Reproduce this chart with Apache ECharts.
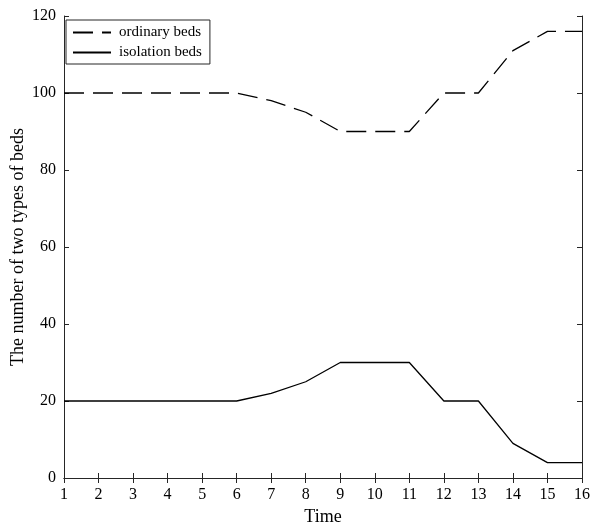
<!DOCTYPE html>
<html>
<head>
<meta charset="utf-8">
<script src="https://cdn.jsdelivr.net/npm/echarts@6/dist/echarts.min.js"></script>
<style>
  html, body { margin: 0; padding: 0; background: #fff; }
  #main { width: 591px; height: 524px; }
</style>
</head>
<body>
<div id="main"></div>
<script>
const times = [1, 2, 3, 4, 5, 6, 7, 8, 9, 10, 11, 12, 13, 14, 15, 16];
const ordinaryBeds = [100, 100, 100, 100, 100, 100, 98, 95, 90, 90, 90, 100, 100, 111, 116, 116];
const isolationBeds = [20, 20, 20, 20, 20, 20, 22, 25, 30, 30, 30, 20, 20, 9, 4, 4];

const dom = document.getElementById('main');
const myChart = echarts.init(dom);

const font = 'Liberation Serif';
const axisColor = '#262626';

function pairs(values) {
  return times.map((t, i) => [t, values[i]]);
}

// top and right edges of the box, ticks only
const boxAxis = {
  axisLine: { show: true, lineStyle: { color: axisColor, width: 1 } },
  axisTick: { show: true, inside: true, length: 5, lineStyle: { color: axisColor } },
  axisLabel: { show: false },
  splitLine: { show: false },
};

myChart.setOption({
  animation: false,
  textStyle: { fontFamily: font },
  grid: { left: 64, right: 9, top: 16, bottom: 46, outerBoundsMode: 'none', containLabel: false },
  legend: {
    orient: 'vertical',
    left: 66,
    top: 20,
    padding: [5, 8, 4, 6],
    itemGap: 5,
    itemWidth: 38,
    itemHeight: 14,
    borderColor: axisColor,
    borderWidth: 1,
    borderRadius: 0,
    backgroundColor: '#fff',
    itemStyle: { color: 'rgba(0,0,0,0)', borderWidth: 0 },
    textStyle: { fontFamily: font, fontSize: 15, color: '#000', padding: [0, 0, 0, 3] },
    data: ['ordinary beds', 'isolation beds'],
  },
  xAxis: [
    {
      type: 'value',
      min: 1,
      max: 16,
      interval: 1,
      name: 'Time',
      nameLocation: 'middle',
      nameGap: 30,
      nameTextStyle: { fontFamily: font, fontSize: 18, color: '#000' },
      axisLine: { show: true, lineStyle: { color: axisColor, width: 1 } },
      axisTick: { show: true, inside: true, length: 5, lineStyle: { color: axisColor } },
      axisLabel: { fontFamily: font, fontSize: 16, color: '#000', margin: 9 },
      splitLine: { show: false },
    },
    Object.assign({}, boxAxis, { type: 'value', position: 'top', min: 1, max: 16, interval: 1 }),
  ],
  yAxis: [
    {
      type: 'value',
      min: 0,
      max: 120,
      interval: 20,
      name: 'The number of two types of beds',
      nameLocation: 'middle',
      nameGap: 37,
      nameMoveOverlap: false,
      nameTextStyle: { fontFamily: font, fontSize: 18, color: '#000' },
      axisLine: { show: true, lineStyle: { color: axisColor, width: 1 } },
      axisTick: { show: true, inside: true, length: 5, lineStyle: { color: axisColor } },
      axisLabel: { fontFamily: font, fontSize: 16, color: '#000', margin: 8 },
      splitLine: { show: false },
    },
    Object.assign({}, boxAxis, { type: 'value', position: 'right', min: 0, max: 120, interval: 20 }),
  ],
  series: [
    {
      name: 'ordinary beds',
      type: 'line',
      data: pairs(ordinaryBeds),
      showSymbol: false,
      symbol: 'none',
      lineStyle: { color: '#000', width: 1.3, type: [20, 9] },
      itemStyle: { color: '#000' },
    },
    {
      name: 'isolation beds',
      type: 'line',
      data: pairs(isolationBeds),
      showSymbol: false,
      symbol: 'none',
      lineStyle: { color: '#000', width: 1.3 },
      itemStyle: { color: '#000' },
    },
  ],
});
</script>
</body>
</html>
